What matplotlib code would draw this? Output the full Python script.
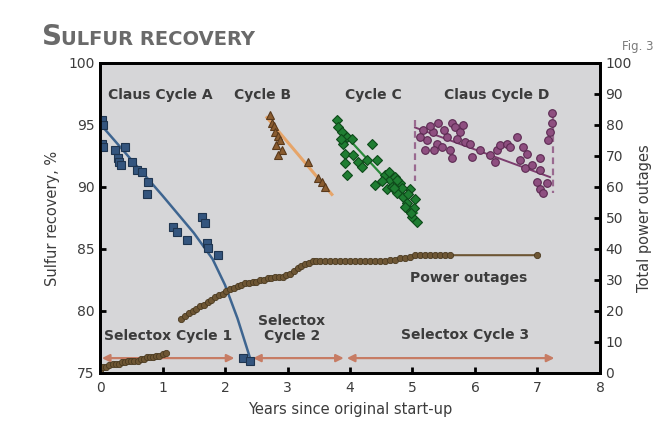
import matplotlib
matplotlib.use('Agg')
from matplotlib import pyplot as plt

plt.rcParams['font.family'] = ['Liberation Sans Narrow', 'DejaVu Sans']

# Claus cycle A (squares)
a_x = [0.03, 0.05, 0.03, 0.04, 0.24, 0.40, 0.29, 0.31, 0.33, 0.51, 0.59, 0.67, 0.77, 0.75,
       1.17, 1.23, 1.39, 1.63, 1.68, 1.71, 1.73, 1.89, 2.29, 2.40]
a_y = [95.4, 95.0, 93.5, 93.2, 93.0, 93.2, 92.3, 92.0, 91.8, 92.0, 91.4, 91.2, 90.4, 89.4,
       86.8, 86.4, 85.7, 87.6, 87.1, 85.5, 85.1, 84.5, 76.2, 76.0]
a_fit_x = [0.0, 1.0, 1.5, 1.8, 2.0, 2.2, 2.42]
a_fit_y = [95.1, 89.3, 86.3, 84.2, 82.1, 79.4, 75.9]

# cycle B (triangles)
b_x = [2.72, 2.75, 2.78, 2.80, 2.84, 2.88, 2.91, 2.85, 2.82, 3.33, 3.49, 3.55, 3.60]
b_y = [95.8, 95.2, 94.9, 94.4, 94.1, 93.8, 93.0, 92.6, 93.4, 92.0, 90.7, 90.4, 90.0]
b_fit_x = [2.67, 3.71]
b_fit_y = [95.6, 89.4]

# cycle C (diamonds)
c_x = [3.79, 3.81, 3.87, 3.95, 4.03, 3.89, 3.92, 3.92, 3.95, 4.05, 4.13, 4.19, 4.35, 4.27,
       4.43, 4.40, 4.56, 4.64, 4.72, 4.80, 4.59, 4.75, 4.85, 4.91, 4.96, 5.00, 5.07, 5.04,
       4.96, 4.83, 4.68, 4.62, 4.70, 4.88, 4.93, 5.02, 4.76, 4.98, 4.52, 3.85]
c_y = [95.4, 94.8, 94.4, 94.0, 93.9, 93.5, 92.7, 91.9, 91.0, 92.6, 92.0, 91.6, 93.5, 92.2,
       92.2, 90.2, 91.0, 90.6, 90.8, 90.3, 89.8, 89.5, 89.2, 88.7, 88.1, 87.6, 87.2, 89.0,
       89.8, 89.9, 90.0, 91.2, 89.9, 88.4, 89.4, 88.3, 90.6, 87.9, 90.5, 93.9]
c_fit_x = [3.81, 5.07]
c_fit_y = [94.8, 87.9]

# Claus cycle D (circles)
d_x = [5.17, 5.23, 5.20, 5.33, 5.41, 5.39, 5.55, 5.63, 5.68, 5.60, 5.63, 5.76, 5.81, 5.84,
       5.92, 5.95, 6.08, 6.24, 6.35, 6.40, 6.51, 6.32, 6.67, 6.56, 6.77, 6.83, 6.72, 6.80,
       6.91, 7.04, 7.04, 6.99, 7.04, 7.15, 7.09, 7.23, 7.23, 7.20, 7.17, 5.28, 5.47, 5.12,
       5.50, 5.72, 5.35]
d_y = [94.6, 93.8, 93.0, 94.4, 95.2, 93.5, 94.0, 95.2, 94.8, 93.0, 92.3, 94.4, 95.0, 93.6,
       93.5, 92.4, 93.0, 92.6, 93.0, 93.4, 93.5, 92.0, 94.0, 93.2, 93.2, 92.7, 92.2, 91.5,
       91.8, 92.3, 91.4, 90.4, 89.8, 90.3, 89.5, 96.0, 95.2, 94.4, 93.8, 94.9, 93.2, 94.0,
       94.6, 93.9, 93.0]
d_fit_x = [5.04, 7.20]
d_fit_y = [94.8, 90.8]
d_dash_left = [5.04, 95.4, 90.5]
d_dash_right = [7.25, 96.0, 89.5]

# power outages (right axis)
p1_x = [0.0, 0.05, 0.1, 0.15, 0.2, 0.25, 0.3, 0.35, 0.4, 0.45, 0.5, 0.55, 0.6, 0.65, 0.7,
        0.75, 0.8, 0.85, 0.9, 0.95, 1.0, 1.05]
p1_y = [1, 2, 2, 2.5, 3, 3, 3, 3.5, 3.5, 4, 4, 4, 4, 4.5, 4.5, 5, 5, 5, 5.5, 5.5, 6, 6.5]
p2_x = [1.3, 1.36, 1.42, 1.48, 1.54, 1.6, 1.66, 1.72, 1.78, 1.84, 1.9, 1.96, 2.02, 2.08,
        2.14, 2.2, 2.26, 2.32, 2.38, 2.44, 2.5, 2.56, 2.62, 2.68, 2.74, 2.8, 2.86, 2.92,
        2.98, 3.04, 3.1, 3.16, 3.22, 3.28, 3.34, 3.4, 3.46, 3.52, 3.6, 3.68, 3.76, 3.84,
        3.92, 4.0, 4.08, 4.16, 4.24, 4.32, 4.4, 4.48, 4.56, 4.64, 4.72, 4.8, 4.88, 4.96,
        5.04, 5.12, 5.2, 5.28, 5.36, 5.44, 5.52, 5.6, 7.0]
p2_y = [17.5, 18.5, 19.5, 20, 20.5, 21.5, 22, 23, 23.5, 24.5, 25, 25.5, 26.5, 27, 27.5,
        28, 28.5, 29, 29, 29.5, 29.5, 30, 30, 30.5, 30.5, 31, 31, 31, 31.5, 32, 33, 34,
        34.5, 35, 35.5, 36, 36, 36, 36, 36, 36, 36, 36, 36, 36, 36, 36, 36, 36, 36, 36,
        36.5, 36.5, 37, 37, 37.5, 38, 38, 38, 38, 38, 38, 38, 38, 38]

# selectox cycles (start, end) in years
sel_spans = [(0.03, 2.15), (2.45, 3.9), (3.95, 7.27)]
sel_level = 76.2

txt = '#3c3c3c'
fig = plt.figure(figsize=(6.55, 4.32), dpi=100)
ax = fig.add_axes([0.1527, 0.1366, 0.7633, 0.7176])
ax.set_facecolor('#d6d6d8')
ax2 = ax.twinx()

# selectox arrows
for s, e in sel_spans:
    ax.annotate('', xy=(e, sel_level), xytext=(s, sel_level),
                arrowprops=dict(arrowstyle='<|-|>', color='#c77c64', lw=1.6,
                                mutation_scale=11, shrinkA=0, shrinkB=0), zorder=2)

ax.plot(a_fit_x, a_fit_y, color='#3e6590', lw=1.8, zorder=3)
ax.plot(a_x, a_y, 's', ms=5.5, color='#34557e', mec='#1f3550', mew=0.8, zorder=4)

ax.plot(b_fit_x, b_fit_y, color='#e6a56a', lw=2.2, zorder=3)
ax.plot(b_x, b_y, '^', ms=6, color='#8a5c30', mec='#5a3a1c', mew=0.8, zorder=4)

ax.plot(c_fit_x, c_fit_y, color='#2b8a3a', lw=1.6, zorder=3)
ax.plot(c_x, c_y, 'D', ms=5, color='#1f7d32', mec='#0e4a1a', mew=0.8, zorder=4)

ax.plot(d_fit_x, d_fit_y, color='#7c3d6e', lw=1.4, zorder=3)
ax.plot(d_x, d_y, 'o', ms=5.5, color='#8e4f80', mec='#5c2a52', mew=0.8, zorder=4)
for xd, y0, y1 in (d_dash_left, d_dash_right):
    ax.plot([xd, xd], [y0, y1], '--', color='#9a6a90', lw=1.6, dashes=(3, 2), zorder=3)

ax2.plot(p1_x, p1_y, '-o', ms=4.5, color='#6e5634', mec='#4a3a20', mew=0.6, lw=1.5)
ax2.plot(p2_x, p2_y, '-o', ms=4.5, color='#6e5634', mec='#4a3a20', mew=0.6, lw=1.5)
ax2.set_zorder(ax.get_zorder() + 1)
ax2.patch.set_visible(False)

lab = dict(color=txt, fontsize=10, fontweight='bold', ha='center', va='center')
ax.text(0.97, 97.4, 'Claus Cycle A', **lab)
ax.text(2.6, 97.4, 'Cycle B', **lab)
ax.text(4.37, 97.4, 'Cycle C', **lab)
ax.text(6.35, 97.4, 'Claus Cycle D', **lab)
ax.text(5.9, 82.7, 'Power outages', **lab)
ax.text(1.09, 78.0, 'Selectox Cycle 1', **lab)
ax.text(3.07, 78.6, 'Selectox\nCycle 2', linespacing=1.1, **lab)
ax.text(5.84, 78.1, 'Selectox Cycle 3', **lab)

ax.set_xlim(0, 8)
ax.set_ylim(75, 100)
ax2.set_ylim(0, 100)
ax.set_xticks(range(0, 9))
ax.set_yticks(range(75, 101, 5))
ax2.set_yticks(range(0, 101, 10))
for a in (ax, ax2):
    a.tick_params(direction='in', length=4, width=2, colors='black', labelsize=10,
                  labelcolor=txt, pad=4)
    for sp in a.spines.values():
        sp.set_linewidth(2)
ax.tick_params(axis='x', pad=6)

ax.set_xlabel('Years since original start-up', fontsize=10.5, color=txt, labelpad=5)
ax.set_ylabel('Sulfur recovery, %', fontsize=10.5, color=txt, labelpad=6)
ax2.set_ylabel('Total power outages', fontsize=10.5, color=txt, labelpad=4)

fig.text(0.064, 0.895, 'S', fontsize=20, fontweight='bold', color='#6a6a6a', va='baseline')
fig.text(0.093, 0.895, 'ULFUR RECOVERY', fontsize=14, fontweight='bold', color='#6a6a6a',
         va='baseline')
fig.text(0.997, 0.885, 'Fig. 3', fontsize=8.5, color='#7a7a7a', ha='right')

plt.savefig('out.png', dpi=100)
